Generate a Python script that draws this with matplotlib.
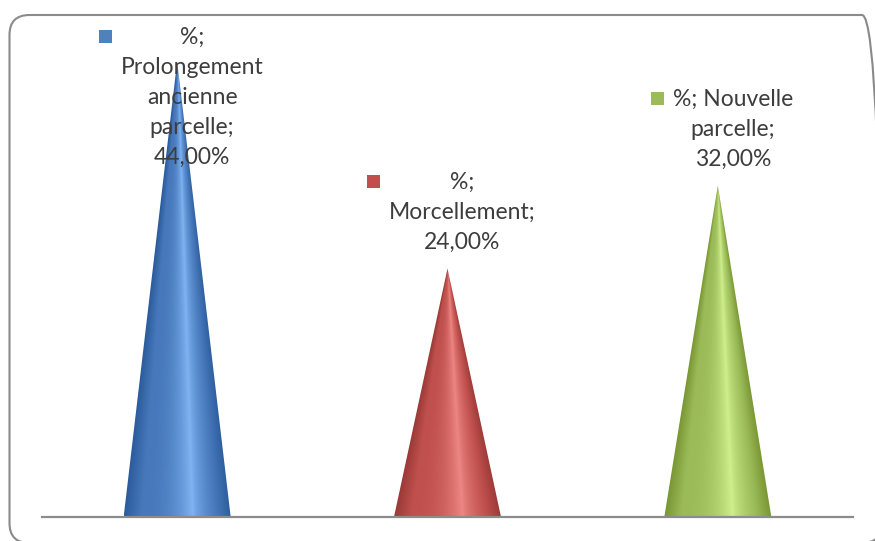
import matplotlib
matplotlib.use("Agg")
import matplotlib.pyplot as plt
import numpy as np
from matplotlib.patches import Polygon, FancyBboxPatch
from matplotlib.transforms import IdentityTransform
from matplotlib.colors import to_rgb

# Data
categories = ["Prolongement ancienne parcelle", "Morcellement", "Nouvelle parcelle"]
values = [44.0, 24.0, 32.0]
label_lines = [
    ["%;", "Prolongement", "ancienne", "parcelle;", "44,00%"],
    ["%;", "Morcellement;", "24,00%"],
    ["%; Nouvelle", "parcelle;", "32,00%"],
]
# (dark edge, mid tone, highlight) per cone
palettes = [
    ("#2c5c9c", "#4678bb", "#80b4f2"),
    ("#9a3a37", "#c0504d", "#ee8884"),
    ("#789632", "#9bbb59", "#cff08c"),
]
key_colors = ["#4f81bd", "#c0504d", "#9bbb59"]

W, H, DPI = 875, 541, 100
fig = plt.figure(figsize=(W / DPI, H / DPI), dpi=DPI)
fig.patch.set_facecolor("white")

ax_left, ax_right, ax_base, ax_top = 42, 853, 517, 20
ax = fig.add_axes([ax_left / W, (H - ax_base) / H,
                   (ax_right - ax_left) / W, (ax_base - ax_top) / H])
ymax = 48.0
ax.set_xlim(-0.5, len(values) - 0.5)
ax.set_ylim(0, ymax)
ax.set_facecolor("none")
for s in ["top", "right", "left"]:
    ax.spines[s].set_visible(False)
ax.spines["bottom"].set_color("#8c8c8c")
ax.spines["bottom"].set_linewidth(1.6)
ax.set_xticks([])
ax.set_yticks([])

half_w = 0.198


def shade(u, pal):
    """Horizontal cone shading as a function of u in [-1, 1]."""
    dark, mid, hi = (np.array(to_rgb(c)) for c in pal)
    t = (u + 1) / 2  # 0 left edge, 1 right edge
    pos = 0.64
    left = t <= pos
    a = np.clip(t / pos, 0, 1)[..., None]
    b = np.clip((t - pos) / (1 - pos), 0, 1)[..., None]
    lcol = np.where(a < 0.25,
                    dark + (mid - dark) * (a / 0.25),
                    mid + (hi - mid) * ((a - 0.25) / 0.75) ** 2.4)
    rcol = np.where(b < 0.6,
                    hi + (mid - hi) * (b / 0.6) ** 0.7,
                    mid + (dark - mid) * ((b - 0.6) / 0.4))
    out = np.where(left[..., None], lcol, rcol)
    return np.clip(out, 0, 1)


for i, (v, pal) in enumerate(zip(values, palettes)):
    nx, ny = 300, 600
    xs = np.linspace(i - half_w, i + half_w, nx)
    ys = np.linspace(0, v, ny)
    X, Y = np.meshgrid(xs, ys)
    local_w = half_w * np.maximum(1 - Y / v, 1e-6)
    u = np.clip((X - i) / local_w, -1, 1)
    img = shade(u, pal)
    im = ax.imshow(img, extent=(i - half_w, i + half_w, 0, v), origin="lower",
                   aspect="auto", interpolation="bilinear", zorder=2)
    tri = Polygon([(i - half_w, 0), (i + half_w, 0), (i, v)], closed=True,
                  facecolor="none", edgecolor="none", transform=ax.transData)
    ax.add_patch(tri)
    im.set_clip_path(tri)

# Data labels with legend keys
fs = 16.5
line_px = 30
font = "Lato"
for i, (v, lines, kc) in enumerate(zip(values, label_lines, key_colors)):
    disp = ax.transData.transform((i, v))
    cx = disp[0] + 15
    bottom_y = disp[1] + 26
    top_y = bottom_y + line_px * (len(lines) - 1)
    limit = H - 37
    if top_y > limit:
        shift = top_y - limit
        top_y -= shift
        bottom_y -= shift
    texts = []
    for k, line in enumerate(lines):
        t = fig.text(cx / W, (top_y - k * line_px) / H, line, ha="center",
                     va="center", fontsize=fs, family=font, color="#3d3d3d",
                     zorder=5)
        texts.append(t)
    fig.canvas.draw()
    r = fig.canvas.get_renderer()
    block_left = min(t.get_window_extent(r).x0 for t in texts)
    ksz = 13
    kx = block_left - 9 - ksz
    fig.patches.append(plt.Rectangle((kx, top_y - ksz / 2 + 1), ksz, ksz,
                                     transform=IdentityTransform(),
                                     facecolor=kc, edgecolor="none",
                                     figure=fig, zorder=5))

# Rounded chart frame
frame = FancyBboxPatch((9.5, H - 543), 882 - 9.5, 543 - 15,
                       boxstyle="round,pad=0,rounding_size=20",
                       transform=IdentityTransform(), facecolor="none",
                       edgecolor="#8a8a8a", linewidth=1.5, figure=fig)
fig.patches.append(frame)

fig.savefig("out.png", dpi=DPI, facecolor="white")
